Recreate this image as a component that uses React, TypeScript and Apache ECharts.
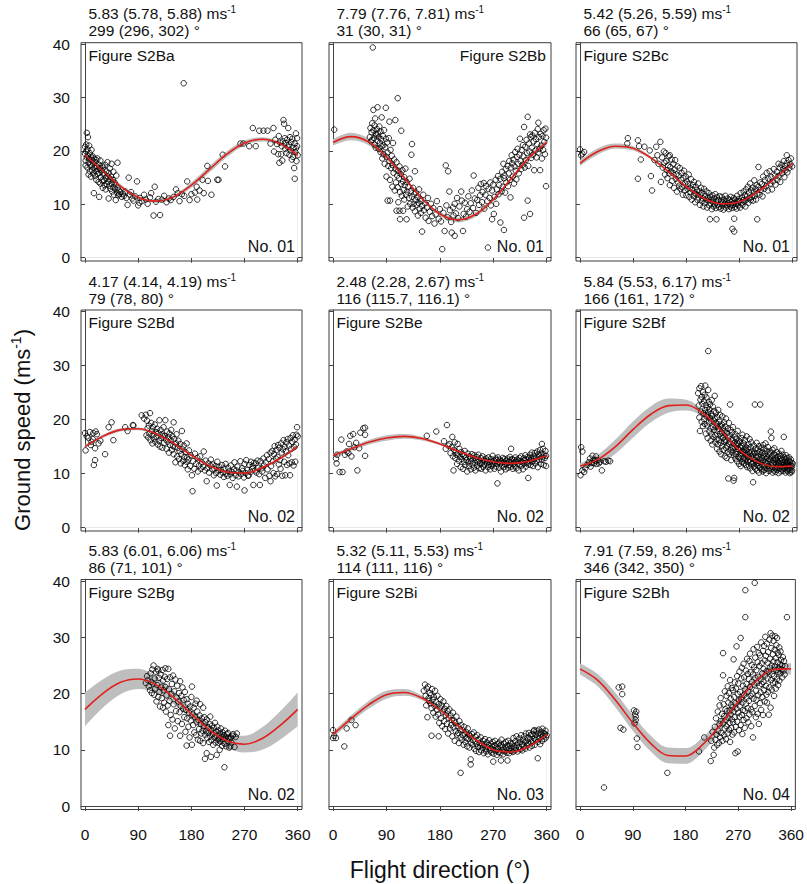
import React, { useEffect, useRef } from "react";
import * as echarts from "echarts";

// ---------- data ----------
const curveDeg = [0, 30, 60, 90, 120, 150, 180, 210, 240, 270, 300, 330, 360];
const xTicks = [0, 90, 180, 270, 360];
const yTicks = [0, 10, 20, 30, 40];

const speedTitles = [
  "5.83 (5.78, 5.88) ms", "7.79 (7.76, 7.81) ms", "5.42 (5.26, 5.59) ms",
  "4.17 (4.14, 4.19) ms", "2.48 (2.28, 2.67) ms", "5.84 (5.53, 6.17) ms",
  "5.83 (6.01, 6.06) ms", "5.32 (5.11, 5.53) ms", "7.91 (7.59, 8.26) ms",
];
const dirTitles = [
  "299 (296, 302) °", "31 (30, 31) °", "66 (65, 67) °",
  "79 (78, 80) °", "116 (115.7, 116.1) °", "166 (161, 172) °",
  "86 (71, 101) °", "114 (111, 116) °", "346 (342, 350) °",
];
const figLabels = [
  "Figure S2Ba", "Figure S2Bb", "Figure S2Bc",
  "Figure S2Bd", "Figure S2Be", "Figure S2Bf",
  "Figure S2Bg", "Figure S2Bi", "Figure S2Bh",
];
const noLabels = ["No. 01", "No. 01", "No. 01", "No. 02", "No. 02", "No. 02", "No. 02", "No. 03", "No. 04"];

const curveA = [19.2, 16.3, 13.4, 11.3, 10.6, 11.4, 13.6, 16.5, 19.4, 21.5, 22.2, 21.4, 19.2];
const curveB = [21.6, 22.7, 21.7, 18.9, 15.0, 11.1, 8.2, 7.1, 8.1, 10.9, 14.8, 18.7, 21.6];
const curveC = [17.7, 19.9, 20.9, 20.5, 18.7, 16.1, 13.3, 11.1, 10.1, 10.5, 12.3, 14.9, 17.7];
const curveD = [15.0, 16.9, 18.1, 18.3, 17.4, 15.6, 13.4, 11.5, 10.3, 10.1, 11.1, 12.8, 15.0];
const curveE = [13.3, 14.6, 15.8, 16.6, 16.9, 16.5, 15.5, 14.2, 13.0, 12.2, 11.9, 12.3, 13.3];
const curveF = [11.4, 12.6, 15.0, 18.2, 21.0, 22.6, 22.7, 21.0, 17.8, 14.3, 12.2, 11.3, 11.4];
const curveG = [17.2, 20.0, 22.0, 22.6, 21.6, 19.3, 16.4, 13.6, 11.6, 11.0, 12.0, 14.3, 17.2];
const curveI = [12.7, 15.5, 18.0, 19.8, 20.2, 19.2, 17.1, 14.3, 11.8, 10.0, 9.6, 10.6, 12.7];
const curveH = [24.4, 22.4, 18.9, 14.8, 11.2, 9.0, 8.9, 11.0, 14.5, 18.6, 22.2, 24.3, 24.4];

const bandA = [0.4, 0.4, 0.35, 0.3, 0.3, 0.35, 0.5, 0.6, 0.55, 0.45, 0.4, 0.35, 0.4];
const bandB = [0.6, 0.7, 0.6, 0.45, 0.35, 0.3, 0.35, 0.45, 0.45, 0.35, 0.3, 0.4, 0.6];
const bandC = [0.5, 0.6, 0.5, 0.4, 0.3, 0.25, 0.25, 0.25, 0.25, 0.25, 0.3, 0.4, 0.5];
const bandD = [0.3, 0.3, 0.3, 0.25, 0.2, 0.2, 0.2, 0.2, 0.2, 0.2, 0.2, 0.25, 0.3];
const bandE = [0.35, 0.4, 0.45, 0.5, 0.45, 0.35, 0.25, 0.2, 0.2, 0.2, 0.2, 0.25, 0.35];
const bandF = [0.5, 0.9, 1.3, 1.5, 1.5, 1.3, 1.0, 0.6, 0.4, 0.4, 0.4, 0.4, 0.5];
const bandG = [3.0, 2.5, 2.1, 1.8, 1.5, 1.2, 1.0, 1.0, 1.2, 1.5, 2.0, 2.5, 3.0];
const bandI = [0.5, 0.6, 0.7, 0.7, 0.6, 0.4, 0.3, 0.25, 0.25, 0.3, 0.3, 0.35, 0.5];
const bandH = [1.0, 1.1, 1.3, 1.4, 1.4, 1.4, 1.4, 1.3, 1.1, 0.9, 0.8, 0.8, 1.0];

const ptsA = [[0,19.5],[0,20.8],[1,18.2],[1,17.3],[2,21.2],[2,19.9],[3,23.4],[3,18.8],[4,16.9],[4,20.3],[5,22.6],[5,19.1],[6,17.8],[6,15.6],[7,21.0],[7,18.5],[8,16.2],[8,19.6],[9,17.4],[10,18.9],[10,15.2],[11,20.2],[11,17.1],[12,16.4],[12,18.3],[13,19.0],[14,15.8],[14,17.6],[15,12.1],[15,18.6],[16,16.9],[17,15.3],[17,17.9],[18,18.4],[19,14.6],[19,16.2],[20,17.1],[21,18.6],[21,15.7],[22,16.6],[23,14.2],[23,17.5],[24,11.4],[24,15.9],[25,16.8],[26,13.9],[26,18.2],[27,15.1],[28,16.4],[29,14.5],[29,17.2],[30,13.1],[30,15.8],[31,16.9],[32,14.4],[33,15.6],[33,13.6],[34,17.4],[35,14.9],[35,12.8],[36,16.2],[37,13.8],[38,15.3],[38,17.9],[39,14.2],[40,11.1],[40,15.9],[41,13.5],[42,14.8],[42,16.7],[43,12.9],[44,15.2],[45,13.9],[45,17.6],[46,12.4],[47,14.6],[48,13.2],[48,16.1],[49,11.8],[50,14.1],[51,12.9],[52,13.6],[52,10.8],[53,15.4],[54,12.2],[55,13.1],[55,17.8],[56,11.7],[57,12.6],[58,11.9],[60,12.3],[62,11.4],[64,12.0],[66,11.6],[68,12.4],[70,11.2],[72,9.9],[74,15.0],[76,11.8],[78,12.3],[80,11.1],[82,10.7],[85,11.5],[88,14.3],[90,9.8],[92,10.3],[93,11.2],[96,10.6],[100,11.8],[103,10.9],[106,10.1],[110,11.3],[112,12.1],[116,7.9],[118,13.3],[120,10.5],[124,11.0],[127,8.0],[130,10.9],[134,11.6],[138,10.4],[142,11.1],[145,10.8],[150,11.4],[154,12.8],[157,12.1],[160,10.6],[164,11.9],[167,32.7],[168,11.6],[173,14.3],[177,10.8],[180,11.9],[186,12.2],[189,13.3],[190,10.9],[194,12.6],[199,14.6],[201,12.1],[207,17.2],[208,14.4],[214,11.8],[224,14.6],[226,14.6],[233,19.3],[237,17.1],[263,21.4],[268,21.4],[278,20.9],[284,24.3],[289,20.9],[295,23.8],[302,23.8],[309,23.8],[314,21.4],[319,24.3],[320,19.9],[322,22.1],[325,21.3],[327,19.4],[328,22.8],[329,17.8],[330,21.6],[332,19.4],[333,20.9],[334,18.2],[335,21.8],[336,25.8],[337,25.1],[338,22.4],[339,20.4],[340,21.5],[341,19.6],[342,22.1],[343,20.8],[344,24.3],[345,21.2],[346,19.3],[347,22.6],[348,20.1],[349,21.7],[350,18.4],[351,22.3],[352,18.9],[353,20.6],[354,16.8],[355,14.8],[355,21.4],[356,19.8],[357,23.3],[357,20.5],[358,18.1],[359,22.4],[359,20.9],[360,19.2]];

const ptsB = [[2,24.0],[62,22.6],[63,24.3],[64,21.8],[65,23.5],[66,22.1],[66,25.2],[67,39.4],[68,27.7],[68,23.9],[69,22.4],[70,24.8],[70,21.2],[71,26.1],[72,23.2],[72,20.6],[73,22.9],[74,24.1],[75,28.2],[75,21.9],[76,23.3],[77,20.4],[77,22.6],[78,24.6],[79,21.5],[80,19.8],[80,23.7],[81,22.2],[82,26.3],[82,20.9],[83,18.6],[84,22.8],[85,21.1],[85,19.4],[86,23.9],[87,17.6],[88,20.7],[89,28.1],[89,22.3],[90,18.9],[90,15.2],[91,21.6],[92,10.7],[92,19.7],[93,17.2],[94,22.4],[95,25.5],[95,18.1],[96,10.7],[96,14.6],[97,20.2],[98,16.8],[99,19.1],[100,13.3],[100,17.4],[101,21.5],[102,15.9],[103,18.4],[104,12.6],[105,25.8],[105,16.6],[106,14.1],[107,8.8],[107,17.9],[108,15.4],[109,29.9],[109,13.2],[110,16.3],[110,10.4],[111,14.9],[112,8.8],[112,17.1],[113,7.2],[113,12.3],[114,15.7],[115,23.8],[115,13.8],[116,11.6],[117,16.4],[118,8.8],[118,14.3],[119,12.7],[120,15.1],[120,10.9],[121,13.6],[122,16.7],[123,11.8],[124,7.2],[124,14.2],[125,12.4],[126,9.6],[127,13.3],[128,11.2],[129,14.8],[130,10.1],[131,12.5],[132,19.3],[133,21.3],[133,11.4],[134,9.4],[135,13.1],[136,10.1],[137,11.9],[138,16.2],[138,8.7],[139,10.8],[140,12.2],[141,9.9],[142,11.4],[143,7.9],[144,10.3],[145,12.8],[146,9.2],[147,11.0],[148,8.4],[149,10.6],[150,4.9],[150,9.7],[152,11.8],[153,8.9],[155,10.2],[156,7.5],[158,9.4],[160,11.2],[161,6.9],[163,8.6],[165,10.1],[167,7.8],[169,9.3],[171,6.4],[173,8.1],[175,10.6],[178,7.3],[180,9.1],[182,6.8],[184,1.6],[186,8.4],[188,5.0],[190,17.3],[191,9.8],[193,7.6],[194,16.2],[196,12.4],[197,8.9],[199,6.7],[200,4.7],[202,9.4],[203,7.9],[205,4.1],[205,10.1],[207,8.3],[209,11.2],[211,7.4],[213,9.6],[216,12.4],[217,10.7],[219,5.0],[220,8.2],[222,10.3],[224,7.7],[226,9.1],[228,11.5],[230,8.6],[232,10.2],[234,12.6],[236,9.3],[237,15.4],[239,11.1],[241,8.4],[243,10.8],[245,13.1],[246,9.9],[248,11.7],[249,13.8],[251,10.4],[252,12.3],[254,14.0],[255,9.2],[257,11.8],[258,13.4],[260,10.6],[261,1.9],[262,12.9],[264,11.2],[265,14.1],[266,9.8],[268,7.2],[268,12.6],[270,13.7],[271,8.2],[272,11.4],[274,14.6],[275,10.1],[276,12.8],[278,15.3],[279,11.9],[280,13.6],[282,6.6],[282,14.8],[284,12.4],[285,16.1],[286,13.3],[287,17.6],[288,5.2],[288,14.9],[289,15.4],[290,12.2],[291,16.6],[292,14.1],[294,17.2],[295,13.4],[296,15.8],[297,18.1],[298,14.6],[299,11.3],[300,16.9],[301,19.2],[302,17.7],[303,15.2],[304,18.4],[305,13.9],[306,17.1],[307,19.8],[308,16.3],[309,14.7],[310,18.9],[311,20.4],[312,17.6],[313,15.8],[314,19.3],[315,22.3],[316,18.1],[317,16.6],[318,20.2],[319,17.4],[320,21.1],[321,19.0],[322,24.5],[322,7.5],[323,16.9],[324,20.8],[325,18.3],[326,22.1],[327,19.6],[328,26.4],[328,10.7],[329,17.2],[330,21.4],[331,19.9],[332,8.2],[332,23.1],[333,22.6],[334,18.7],[335,20.6],[336,22.9],[337,19.3],[338,21.8],[339,16.4],[340,23.4],[341,20.1],[342,22.2],[343,18.8],[344,21.3],[345,24.1],[346,25.3],[346,19.7],[347,22.6],[348,20.4],[349,16.4],[350,23.2],[351,21.0],[352,18.6],[353,22.8],[354,20.2],[355,23.9],[356,21.7],[357,19.4],[358,24.2],[359,13.4],[359,22.5]];

const ptsC = [[0,20.3],[2,19.2],[4,19.5],[7,19.8],[80,21.4],[81,22.4],[98,22.0],[98,14.8],[100,20.9],[103,18.4],[109,20.8],[118,20.1],[120,15.3],[122,12.6],[126,18.3],[129,20.8],[131,19.2],[133,17.6],[136,21.7],[137,14.2],[139,18.8],[140,16.9],[142,19.9],[143,17.8],[144,15.6],[145,19.6],[146,18.1],[147,16.4],[148,14.9],[149,17.3],[150,19.0],[151,15.8],[152,19.2],[152,13.6],[153,17.0],[154,16.2],[155,18.4],[156,14.4],[157,15.9],[158,17.6],[159,13.1],[160,16.5],[161,18.3],[162,14.8],[163,15.6],[164,12.4],[165,17.1],[166,14.1],[167,15.4],[168,13.5],[169,16.8],[170,12.9],[171,14.6],[172,15.9],[173,13.2],[174,11.8],[175,14.9],[176,16.3],[177,12.6],[178,13.9],[179,15.2],[180,11.7],[181,14.3],[182,12.9],[183,13.8],[184,15.6],[185,11.4],[186,13.1],[187,12.3],[188,14.7],[189,10.9],[190,12.8],[191,13.6],[192,11.6],[193,14.2],[194,12.1],[195,10.4],[196,13.3],[197,11.9],[198,12.7],[199,10.8],[200,13.9],[201,11.3],[202,12.4],[203,9.9],[204,11.8],[205,13.1],[206,10.6],[207,12.2],[208,11.1],[209,9.6],[210,12.9],[211,10.3],[212,11.6],[213,10.9],[214,12.4],[215,9.4],[216,11.2],[217,10.7],[218,12.1],[219,9.8],[220,7.2],[220,11.4],[221,10.2],[222,10.9],[223,9.1],[224,11.7],[225,10.4],[226,9.6],[227,11.1],[228,10.0],[229,11.9],[230,9.3],[231,7.2],[231,10.6],[232,11.3],[233,9.9],[234,10.8],[235,9.5],[236,11.5],[237,10.1],[238,9.2],[239,10.7],[240,11.4],[241,9.7],[242,10.3],[243,9.0],[244,10.9],[245,10.1],[246,11.6],[247,9.4],[248,10.5],[249,9.8],[250,11.1],[251,10.2],[252,9.1],[253,10.8],[254,9.6],[255,11.4],[256,10.0],[257,9.3],[258,5.4],[258,10.7],[259,9.9],[260,11.2],[261,7.3],[261,4.9],[261,10.3],[262,9.5],[263,10.9],[264,10.1],[265,9.2],[266,11.6],[267,10.4],[268,9.8],[269,11.0],[270,10.6],[271,9.4],[272,12.1],[273,10.2],[274,11.3],[275,9.9],[276,10.8],[277,12.4],[278,10.5],[279,11.7],[280,9.6],[281,12.8],[282,10.9],[283,11.5],[284,13.3],[285,10.3],[286,12.2],[287,11.1],[288,13.9],[289,10.8],[290,12.6],[291,11.4],[292,13.1],[293,10.7],[294,12.4],[295,14.5],[296,11.6],[297,12.9],[298,10.9],[299,13.6],[300,7.2],[300,12.0],[302,17.0],[302,13.3],[304,11.8],[305,14.1],[306,12.7],[308,13.8],[309,11.5],[310,15.2],[312,12.9],[313,14.6],[315,13.4],[316,15.9],[318,12.6],[319,14.8],[321,16.2],[322,13.9],[324,15.1],[325,12.8],[327,14.3],[328,16.6],[330,15.4],[331,13.7],[333,16.1],[334,14.6],[336,17.6],[336,15.3],[338,16.9],[339,14.2],[341,17.4],[342,15.8],[344,16.6],[345,18.1],[346,15.1],[347,17.2],[348,16.4],[350,19.2],[350,17.7],[351,16.0],[353,18.3],[354,16.8],[356,17.5],[357,18.6],[359,17.1]];

const ptsD = [[0,17.5],[1,14.3],[3,16.9],[6,16.6],[8,17.7],[10,15.3],[11,15.9],[13,16.4],[14,17.5],[15,11.6],[17,14.7],[17,12.5],[18,17.8],[20,17.3],[23,15.6],[26,16.1],[34,13.6],[40,18.6],[45,19.5],[48,16.2],[68,18.6],[72,17.9],[81,19.0],[82,18.9],[96,20.8],[100,20.2],[103,20.9],[106,18.4],[110,21.2],[104,17.1],[105,19.8],[107,16.7],[108,18.9],[109,17.4],[111,16.2],[112,19.4],[113,17.9],[114,15.6],[115,18.6],[116,17.2],[117,16.5],[118,19.1],[119,15.9],[120,17.7],[121,16.8],[122,18.3],[123,15.4],[124,17.5],[125,16.1],[126,19.9],[127,15.0],[128,18.1],[129,16.6],[130,17.3],[131,14.8],[132,16.9],[133,18.6],[134,15.7],[135,17.0],[136,19.9],[137,16.3],[138,14.6],[139,17.8],[140,15.9],[141,16.7],[142,13.9],[143,17.4],[144,15.3],[145,16.2],[146,18.1],[147,14.4],[148,16.9],[149,15.1],[150,19.5],[150,13.6],[151,16.4],[152,14.9],[153,12.1],[154,15.6],[155,17.3],[156,13.2],[157,14.8],[158,16.1],[159,12.7],[160,14.2],[161,15.5],[162,11.9],[163,13.6],[164,17.9],[165,14.5],[166,12.4],[167,15.2],[168,13.1],[169,11.6],[170,14.0],[172,15.6],[172,12.2],[173,13.0],[174,10.8],[175,12.6],[176,14.3],[178,11.4],[179,13.4],[181,9.7],[182,6.75],[183,12.3],[185,10.9],[186,13.7],[188,11.8],[190,12.9],[191,10.4],[193,11.5],[195,13.2],[196,10.9],[198,12.1],[200,11.3],[201,14.1],[203,10.6],[204,12.4],[206,8.6],[207,11.0],[209,11.9],[210,10.2],[212,11.5],[213,12.6],[215,10.8],[216,11.7],[218,9.7],[219,10.9],[221,11.4],[222,10.1],[223,7.8],[224,12.2],[226,10.6],[227,11.3],[229,9.8],[230,10.7],[232,11.6],[233,10.2],[235,9.4],[236,10.9],[238,11.8],[239,10.0],[241,9.6],[242,11.1],[244,10.4],[245,7.9],[246,9.9],[247,11.5],[249,10.3],[250,9.2],[252,10.8],[253,12.1],[255,9.7],[256,10.6],[257,7.6],[258,11.3],[260,9.5],[261,10.2],[263,12.3],[264,9.9],[266,11.0],[267,10.5],[269,9.3],[270,6.9],[270,11.8],[272,10.1],[273,12.5],[275,10.7],[276,9.6],[277,9.7],[278,11.6],[280,10.3],[281,12.2],[283,10.9],[284,11.4],[285,7.9],[286,12.0],[288,10.6],[289,11.9],[290,10.2],[292,12.4],[293,11.1],[295,9.9],[296,7.9],[297,12.3],[299,11.0],[300,10.4],[302,12.8],[303,11.5],[305,9.2],[306,12.1],[308,13.4],[309,10.8],[311,12.7],[312,9.6],[314,8.6],[314,13.9],[315,11.4],[317,14.2],[318,12.3],[319,10.1],[320,13.6],[321,15.1],[322,9.5],[323,12.8],[324,14.4],[325,9.9],[326,13.1],[327,15.3],[328,11.7],[329,14.8],[330,12.5],[331,10.9],[332,15.6],[333,13.9],[334,9.6],[335,14.5],[336,16.2],[337,12.2],[338,15.0],[339,9.7],[340,14.1],[341,15.8],[342,11.6],[343,16.4],[344,13.4],[345,15.2],[346,11.9],[347,9.7],[348,16.6],[349,14.6],[350,12.1],[351,15.9],[352,17.1],[353,11.5],[354,14.9],[355,16.3],[356,12.2],[357,15.4],[358,17.2],[359,18.6],[360,16.9]];

const ptsE = [[5,12.8],[6,11.9],[7,13.5],[11,10.3],[14,16.3],[16,10.3],[20,13.5],[23,14.1],[26,13.8],[27,15.5],[29,17.0],[31,13.2],[34,17.3],[36,14.9],[39,15.7],[41,10.6],[44,14.7],[46,17.6],[51,18.4],[54,18.5],[54,17.2],[54,13.3],[158,17.0],[174,17.8],[187,16.0],[190,14.6],[192,19.0],[194,15.2],[196,15.5],[198,13.8],[200,14.9],[201,16.8],[202,13.2],[203,10.6],[204,14.4],[205,15.8],[206,12.9],[207,14.1],[208,13.5],[209,11.8],[210,15.5],[211,13.7],[212,12.4],[213,14.6],[214,13.1],[215,11.2],[216,14.0],[217,12.7],[218,13.6],[219,10.9],[220,13.3],[221,12.2],[222,14.2],[223,11.6],[224,13.0],[225,12.5],[226,10.4],[227,13.7],[228,12.1],[229,11.4],[230,13.2],[231,12.8],[232,10.8],[233,12.3],[234,13.6],[235,11.7],[236,12.9],[237,11.1],[238,13.4],[239,12.0],[240,10.6],[241,12.6],[242,13.1],[243,11.5],[244,12.2],[245,13.5],[246,11.0],[247,12.4],[248,11.8],[249,12.9],[250,10.9],[251,12.0],[252,13.2],[253,11.3],[254,12.6],[255,11.7],[256,12.3],[257,10.6],[258,12.8],[259,11.9],[260,12.4],[261,11.2],[262,13.0],[263,11.6],[264,12.2],[265,10.8],[266,12.7],[267,11.4],[268,12.1],[269,13.3],[270,11.7],[271,12.4],[272,10.9],[273,12.0],[274,12.8],[275,11.3],[276,12.5],[277,8.2],[277,11.8],[278,13.0],[279,12.2],[280,11.1],[281,12.6],[282,11.9],[283,10.4],[284,12.3],[285,11.5],[286,12.9],[287,12.1],[288,11.2],[289,12.7],[290,11.7],[291,10.8],[292,12.4],[293,11.9],[294,12.8],[295,11.1],[296,12.2],[297,11.6],[298,13.1],[299,12.5],[300,14.6],[300,11.3],[301,12.0],[302,12.7],[303,10.9],[304,11.8],[305,12.5],[306,11.4],[307,13.0],[308,12.2],[309,11.0],[310,12.6],[311,11.8],[312,12.4],[313,10.6],[314,12.9],[315,11.7],[316,12.3],[317,13.2],[318,11.5],[319,12.1],[320,10.8],[321,12.8],[322,11.9],[323,12.5],[324,13.4],[325,11.3],[326,12.6],[327,12.0],[328,13.1],[329,9.2],[329,11.7],[330,12.9],[331,12.3],[332,13.5],[333,11.6],[334,12.8],[335,13.9],[336,12.2],[337,11.4],[338,13.3],[339,12.7],[340,13.8],[341,11.9],[342,13.0],[343,12.4],[344,14.1],[345,11.2],[346,13.6],[347,12.5],[348,13.2],[349,14.4],[350,11.8],[351,13.7],[352,15.5],[352,12.6],[353,13.1],[354,14.6],[355,11.6],[356,13.5],[357,12.9],[358,14.2],[359,13.3],[359,11.4]];

const ptsF = [[1,9.7],[2,14.9],[4,14.1],[4,10.6],[7,10.3],[9,11.0],[12,11.6],[15,12.1],[17,12.8],[18,11.3],[20,12.0],[21,13.3],[23,12.6],[24,11.9],[26,12.4],[27,13.2],[28,11.8],[30,12.5],[32,11.9],[34,12.2],[37,10.6],[41,12.3],[44,12.2],[48,12.4],[51,12.3],[200,24.9],[201,22.6],[202,25.8],[202,20.4],[203,17.9],[204,23.7],[205,21.5],[205,26.2],[206,24.2],[206,19.6],[207,22.9],[208,25.1],[208,18.8],[209,21.2],[210,23.4],[210,20.1],[211,19.2],[211,24.6],[212,26.3],[212,21.8],[213,17.4],[213,22.7],[214,20.6],[214,24.1],[215,18.9],[215,22.2],[216,20.8],[216,16.6],[217,32.7],[217,25.5],[217,21.4],[218,19.5],[218,23.3],[219,17.8],[219,21.9],[220,20.3],[220,22.8],[221,18.4],[221,16.1],[222,21.1],[222,19.8],[223,23.6],[223,17.3],[224,20.7],[224,15.4],[225,18.6],[225,22.4],[226,19.9],[226,16.8],[227,21.6],[227,18.1],[228,24.4],[228,20.2],[229,17.1],[229,15.8],[230,19.4],[230,21.3],[231,16.4],[231,18.7],[232,20.5],[232,14.6],[233,17.9],[233,19.2],[234,15.4],[234,21.8],[235,18.3],[235,16.2],[236,19.6],[236,14.1],[237,17.4],[237,20.9],[238,15.7],[238,18.8],[239,16.9],[239,13.6],[240,19.1],[240,17.6],[241,15.1],[241,20.6],[242,16.6],[242,18.4],[243,14.4],[243,17.2],[244,19.5],[244,15.9],[245,13.2],[245,17.9],[246,16.3],[246,18.7],[247,14.8],[247,20.2],[248,16.0],[248,12.9],[249,17.5],[249,15.2],[250,18.3],[250,14.0],[251,9.1],[251,16.7],[252,15.5],[252,19.4],[253,13.7],[253,17.0],[254,22.8],[254,15.8],[255,14.3],[255,18.1],[256,16.4],[256,12.5],[257,15.0],[257,17.6],[258,13.9],[258,16.2],[259,14.7],[259,18.6],[260,8.7],[260,15.6],[261,9.2],[261,13.4],[262,16.8],[262,14.9],[263,12.8],[263,17.3],[264,15.2],[264,13.6],[265,14.0],[265,16.5],[266,12.3],[266,15.7],[267,14.6],[267,17.9],[268,13.1],[268,15.4],[269,11.8],[269,16.1],[270,14.4],[270,12.9],[271,15.9],[271,13.7],[272,11.4],[272,14.8],[273,16.6],[273,13.3],[274,12.1],[274,15.1],[275,14.2],[275,17.2],[276,12.7],[276,13.9],[277,15.6],[277,11.9],[278,14.5],[278,13.0],[279,16.2],[279,12.4],[280,13.8],[280,15.0],[281,11.6],[281,14.3],[282,12.8],[282,16.9],[283,13.5],[283,11.2],[284,14.7],[284,12.3],[285,15.4],[285,13.1],[286,11.5],[286,14.0],[287,12.6],[287,16.4],[288,13.7],[288,11.0],[289,14.9],[289,12.2],[290,13.3],[290,15.8],[291,11.8],[291,14.1],[292,12.9],[292,10.5],[293,8.4],[293,13.6],[294,12.0],[294,15.2],[295,11.3],[295,13.9],[296,22.8],[296,12.5],[297,14.6],[297,10.9],[298,13.1],[298,11.7],[299,15.7],[299,12.3],[300,13.8],[300,10.6],[301,12.0],[301,14.5],[302,11.4],[302,13.2],[303,15.1],[303,10.2],[304,12.7],[304,14.0],[305,22.8],[305,11.1],[306,13.5],[306,12.2],[307,10.8],[307,14.8],[308,12.9],[308,11.6],[309,13.9],[309,10.4],[310,12.4],[310,15.3],[311,11.2],[311,13.3],[312,14.6],[312,10.7],[313,12.1],[313,13.7],[314,11.5],[314,15.6],[315,12.8],[315,10.1],[316,14.2],[316,11.9],[317,13.0],[317,10.9],[318,12.3],[318,14.9],[319,11.4],[319,13.5],[320,10.5],[320,12.7],[321,14.1],[321,11.1],[322,12.6],[322,13.8],[323,17.8],[323,10.8],[324,16.6],[324,12.0],[325,13.2],[325,11.3],[326,14.4],[326,10.2],[327,12.5],[327,11.7],[328,13.6],[328,10.6],[329,12.2],[329,14.7],[330,11.0],[330,12.9],[331,13.4],[331,10.3],[332,11.8],[332,12.6],[333,14.0],[333,11.2],[334,10.7],[334,12.4],[335,13.1],[335,11.5],[336,12.0],[336,10.1],[337,13.7],[337,11.8],[338,12.3],[338,10.9],[339,11.4],[339,13.3],[340,12.8],[340,10.4],[341,11.9],[341,14.2],[342,10.8],[342,12.5],[343,13.5],[343,11.2],[344,12.1],[344,10.5],[345,16.8],[345,11.6],[346,13.0],[346,10.9],[347,12.2],[347,11.4],[348,10.2],[348,12.7],[349,11.7],[349,13.4],[350,10.6],[350,12.1],[351,11.3],[351,12.9],[352,10.4],[352,11.8],[353,12.4],[353,10.8],[354,11.5],[354,13.0],[355,10.1],[355,12.2],[356,11.6],[356,10.7],[357,12.6],[357,11.1],[358,10.3],[358,12.0],[359,11.4],[359,10.6],[360,11.9]];

const ptsG = [[103,21.9],[105,23.1],[106,22.4],[108,21.3],[110,20.6],[111,23.6],[112,22.1],[113,20.1],[114,24.3],[115,21.8],[116,25.0],[117,19.8],[118,22.7],[119,20.9],[120,23.9],[121,18.6],[122,21.5],[123,24.4],[124,19.4],[124,24.1],[125,22.8],[126,20.3],[127,17.7],[128,23.4],[129,21.1],[130,19.2],[131,24.2],[132,17.5],[132,22.3],[133,20.6],[134,18.4],[135,23.0],[136,24.5],[136,21.2],[137,16.8],[138,19.7],[139,22.6],[140,17.9],[141,24.4],[141,14.4],[142,20.8],[143,18.7],[144,12.5],[144,22.9],[145,16.2],[146,19.9],[147,21.7],[148,15.4],[149,23.2],[150,18.1],[151,20.4],[152,13.8],[153,22.5],[154,16.9],[155,19.3],[156,21.4],[157,15.1],[158,18.6],[159,20.1],[160,16.7],[161,12.5],[161,22.2],[162,17.8],[163,19.6],[164,14.6],[165,21.1],[166,17.3],[167,18.9],[168,15.8],[169,20.3],[170,13.2],[171,17.1],[172,10.75],[172,19.0],[173,15.6],[174,18.2],[175,14.1],[176,16.6],[177,12.2],[178,17.7],[179,15.2],[180,19.4],[181,21.25],[181,10.9],[182,16.3],[183,14.4],[184,17.5],[185,13.1],[186,15.9],[187,18.2],[188,12.6],[189,18.75],[189,14.9],[190,16.8],[191,11.8],[192,15.3],[193,13.7],[194,16.1],[195,18.1],[195,11.6],[196,14.6],[197,12.9],[198,15.6],[199,13.4],[200,17.5],[200,11.2],[201,14.2],[202,15.8],[203,8.4],[203,12.7],[204,14.9],[205,13.3],[206,9.4],[206,15.4],[207,12.1],[208,14.0],[209,13.0],[210,11.4],[211,14.6],[212,15.9],[212,12.4],[213,8.75],[213,13.6],[214,11.7],[215,14.3],[216,12.8],[217,10.9],[218,13.9],[219,12.2],[220,14.8],[221,11.3],[222,13.2],[223,9.1],[223,12.5],[224,14.1],[225,11.8],[226,11.25],[226,13.4],[227,12.0],[228,10.0],[228,12.9],[229,11.5],[230,13.8],[231,12.3],[232,10.7],[233,13.1],[234,11.9],[235,12.6],[236,6.9],[236,11.1],[237,13.4],[238,12.1],[239,10.6],[240,12.8],[241,11.6],[242,13.0],[243,12.2],[244,10.4],[245,11.9],[246,10.6],[247,12.2],[248,11.3],[250,12.5],[251,12.8],[253,10.5],[255,12.3],[257,12.9]];

const ptsI = [[0,13.5],[0,12.1],[2,12.5],[5,12.1],[19,10.6],[23,13.8],[31,15.3],[38,14.4],[153,20.5],[155,21.6],[156,19.6],[157,17.9],[158,20.9],[159,15.8],[160,21.25],[161,19.2],[162,18.7],[163,20.1],[164,18.3],[165,19.7],[166,12.5],[166,17.4],[167,20.8],[168,18.9],[169,16.6],[170,19.4],[171,17.8],[172,20.5],[173,15.9],[174,18.5],[175,17.1],[176,19.6],[177,16.3],[178,12.4],[178,18.1],[179,14.8],[180,17.5],[181,19.0],[182,15.6],[183,17.9],[184,14.2],[185,16.8],[186,18.6],[187,15.1],[188,17.3],[189,13.7],[190,16.2],[191,17.8],[192,14.6],[193,16.9],[194,12.9],[195,15.7],[196,17.2],[197,13.8],[198,16.1],[199,14.4],[200,15.3],[201,12.4],[202,16.6],[203,14.0],[204,15.2],[205,11.6],[206,14.8],[207,13.3],[208,15.9],[209,12.7],[210,14.2],[211,13.0],[212,11.2],[213,15.1],[214,13.6],[215,5.9],[215,12.2],[216,14.4],[217,11.8],[218,13.5],[219,12.6],[220,10.9],[221,14.1],[222,12.9],[223,11.4],[224,13.2],[225,12.1],[226,10.6],[227,13.8],[228,11.9],[229,12.7],[230,10.4],[231,12.4],[232,8.3],[232,7.4],[233,11.3],[234,12.8],[235,10.9],[236,11.7],[237,13.1],[238,10.2],[239,11.5],[240,12.3],[241,9.8],[242,11.1],[243,12.6],[244,10.5],[245,11.8],[246,9.6],[247,11.2],[248,10.7],[249,12.2],[250,9.9],[251,11.0],[252,10.4],[253,11.6],[254,9.4],[255,10.8],[256,11.9],[257,10.1],[258,9.7],[259,11.3],[260,10.5],[261,9.2],[262,10.9],[263,11.7],[264,9.9],[265,10.3],[266,11.1],[267,9.5],[268,10.6],[269,11.4],[270,7.9],[270,10.0],[271,9.3],[272,10.8],[273,11.6],[274,9.8],[275,10.4],[276,9.1],[277,11.0],[278,10.2],[279,9.6],[280,11.3],[281,10.7],[282,9.4],[283,8.1],[283,10.9],[284,11.8],[285,9.9],[286,10.5],[287,9.2],[288,11.1],[289,10.0],[290,9.7],[291,11.4],[292,10.3],[293,9.5],[294,8.1],[294,10.8],[295,11.6],[296,10.1],[297,9.4],[298,10.7],[299,11.2],[300,9.8],[301,10.4],[302,11.0],[303,9.6],[304,12.1],[305,10.6],[306,9.9],[307,11.5],[308,10.3],[309,12.4],[310,10.9],[311,9.7],[312,11.2],[313,10.5],[314,12.0],[315,11.4],[316,10.1],[317,12.6],[318,11.0],[319,9.9],[320,11.8],[321,10.6],[322,12.4],[323,11.3],[324,10.2],[325,12.9],[326,11.6],[327,10.8],[328,12.2],[329,11.1],[330,13.0],[331,10.4],[332,11.9],[333,12.6],[334,11.3],[335,10.7],[336,12.8],[337,11.5],[338,13.3],[339,13.5],[339,12.0],[340,10.9],[341,12.7],[342,11.8],[343,13.4],[344,12.3],[345,8.5],[345,11.4],[346,12.9],[347,13.6],[348,12.1],[349,11.0],[350,12.7],[351,13.2],[352,11.6],[353,13.75],[354,12.4],[355,13.0],[356,11.9],[357,12.8],[358,13.4],[359,12.2],[360,12.6]];

const ptsH = [[41,3.3],[66,21.1],[69,13.9],[72,21.25],[72,19.9],[74,13.6],[92,17.0],[93,14.7],[94,16.4],[95,15.9],[95,15.3],[96,16.8],[97,12.0],[98,10.5],[149,5.9],[203,9.7],[212,12.2],[223,8.0],[224,11.6],[226,13.2],[228,9.1],[229,10.4],[230,14.1],[231,11.8],[232,15.6],[233,12.7],[234,10.9],[235,16.8],[236,13.4],[237,11.2],[238,17.9],[238,14.6],[239,12.3],[240,19.2],[240,15.1],[241,13.0],[242,16.4],[243,11.6],[244,27.2],[244,23.25],[244,14.7],[245,18.1],[246,12.6],[246,16.0],[247,20.4],[247,13.8],[248,17.2],[249,15.3],[249,11.9],[250,19.6],[250,14.2],[251,16.9],[252,21.3],[252,12.9],[253,18.4],[253,15.7],[254,13.6],[254,20.1],[255,17.0],[255,14.8],[256,22.4],[256,11.4],[257,16.3],[257,19.1],[258,13.9],[258,18.0],[259,15.4],[259,21.0],[260,17.6],[260,12.7],[261,20.6],[261,14.9],[262,26.1],[262,16.8],[263,19.4],[263,13.1],[264,22.0],[264,15.8],[265,9.4],[265,18.3],[266,20.9],[266,14.1],[267,28.4],[267,17.3],[268,23.1],[268,15.0],[269,9.7],[269,19.9],[270,16.6],[270,21.8],[271,13.5],[271,18.8],[272,23.9],[272,15.9],[273,20.3],[273,17.7],[274,29.9],[274,14.4],[275,22.7],[275,19.0],[276,16.2],[276,24.6],[277,18.4],[277,12.8],[278,21.4],[278,17.1],[279,25.3],[279,15.3],[280,19.7],[280,22.9],[281,16.9],[281,13.9],[282,38.4],[282,33.6],[282,20.8],[283,24.1],[283,18.2],[284,15.6],[284,21.7],[285,26.2],[285,19.3],[286,17.4],[286,23.5],[287,14.9],[287,20.4],[288,22.6],[288,18.7],[289,25.8],[289,16.3],[290,21.2],[290,27.1],[291,19.6],[291,23.8],[292,17.2],[292,14.2],[293,22.1],[293,25.1],[294,20.0],[294,16.7],[295,12.2],[295,23.4],[296,27.9],[296,19.1],[297,21.6],[297,24.7],[298,39.7],[298,17.8],[299,22.8],[299,26.4],[300,20.5],[300,15.8],[301,24.2],[301,18.9],[302,28.3],[302,21.9],[303,16.4],[303,25.6],[304,23.0],[304,19.7],[305,27.2],[305,14.6],[306,21.4],[306,24.9],[307,18.3],[307,26.8],[308,22.5],[308,20.2],[309,29.1],[309,17.1],[310,25.4],[310,21.7],[311,23.6],[311,19.4],[312,27.6],[312,16.2],[313,24.4],[313,22.1],[314,20.6],[314,28.5],[315,25.9],[315,18.6],[316,23.2],[316,30.1],[317,21.4],[317,26.7],[318,19.8],[318,24.0],[319,18.4],[319,28.9],[320,22.7],[320,25.5],[321,20.3],[321,27.4],[322,16.25],[322,23.9],[323,29.6],[323,21.1],[324,26.2],[324,24.6],[325,30.75],[325,17.5],[326,22.4],[326,28.1],[327,25.0],[327,20.7],[328,30.3],[328,23.5],[329,27.0],[329,21.9],[330,25.7],[330,29.4],[331,23.1],[331,19.6],[332,27.8],[332,24.8],[333,22.0],[333,30.2],[334,26.3],[334,20.9],[335,28.6],[335,24.2],[336,22.6],[336,29.9],[337,25.6],[337,27.3],[338,23.8],[338,21.5],[339,26.9],[339,24.5],[340,28.2],[340,22.3],[341,25.2],[342,27.5],[342,23.6],[343,26.0],[344,24.3],[345,25.0],[345,22.9],[346,26.5],[347,24.1],[348,25.8],[349,23.4],[350,24.9],[353,33.6]];

// ---------- layout ----------
const FONT = "'Liberation Sans', Arial, Helvetica, sans-serif";
const colLeft = [81, 329, 576];
const colWidth = [221, 222, 221];
const rowTop = [42.7, 310, 579.5];
const rowHeight = [218.3, 221, 230];
const X_MIN = -6.8, X_MAX = 367.3, Y_MIN = -0.62, Y_MAX = 40.3;

export default function App() {
  const ref = useRef<HTMLDivElement>(null);

  useEffect(() => {
    document.body.style.margin = "0";
    const chart = echarts.init(ref.current!, null, { renderer: "svg" });

    const panelPts = [ptsA, ptsB, ptsC, ptsD, ptsE, ptsF, ptsG, ptsI, ptsH];
    const panelCurve = [curveA, curveB, curveC, curveD, curveE, curveF, curveG, curveI, curveH];
    const panelBand = [bandA, bandB, bandC, bandD, bandE, bandF, bandG, bandI, bandH];

    const grid: any[] = [];
    const xAxis: any[] = [];
    const yAxis: any[] = [];
    const series: any[] = [];
    const graphic: any[] = [];
    const SM = 0.35;

    for (let i = 0; i < 9; i++) {
      const r = Math.floor(i / 3);
      const c = i % 3;
      const left = colLeft[c];
      const top = rowTop[r];
      const w = colWidth[c];
      const h = rowHeight[r];
      grid.push({
        left, top, width: w, height: h,
        show: true, borderColor: "#3c3c3c", borderWidth: 1, backgroundColor: "transparent",
      });
      xAxis.push({
        type: "value", gridIndex: i, min: X_MIN, max: X_MAX, offset: 2,
        axisLine: { show: true, lineStyle: { color: "#444", width: 1 } },
        axisTick: { show: true, length: 5, customValues: xTicks, lineStyle: { color: "#444" } },
        axisLabel: {
          show: r === 2, customValues: xTicks, margin: 15, fontSize: 15.5,
          color: "#111", fontFamily: FONT,
        },
        splitLine: { show: false },
      });
      yAxis.push({
        type: "value", gridIndex: i, min: Y_MIN, max: Y_MAX, offset: 2,
        axisLine: { show: true, lineStyle: { color: "#444", width: 1 } },
        axisTick: { show: true, length: 4, customValues: yTicks, lineStyle: { color: "#444" } },
        axisLabel: {
          show: c === 0, customValues: yTicks, margin: 9, fontSize: 15.5,
          color: "#111", fontFamily: FONT,
        },
        splitLine: { show: false },
      });

      const curve = panelCurve[i];
      const band = panelBand[i];
      const hi = curveDeg.map((d, k) => [d, curve[k] + band[k]]);
      const lo = curveDeg.map((d, k) => [d, curve[k] - band[k]]);
      const mid = curveDeg.map((d, k) => [d, curve[k]]);

      // grey band: fill under upper edge, then white-out under lower edge
      series.push({
        type: "line", xAxisIndex: i, yAxisIndex: i, data: hi,
        smooth: SM, symbol: "none", lineStyle: { width: 0, opacity: 0 },
        areaStyle: { color: "#bebebe", opacity: 1, origin: 0 }, silent: true, z: 1,
      });
      series.push({
        type: "line", xAxisIndex: i, yAxisIndex: i, data: lo,
        smooth: SM, symbol: "none", lineStyle: { width: 0, opacity: 0 },
        areaStyle: { color: "#ffffff", opacity: 1, origin: 0 }, silent: true, z: 2,
      });
      series.push({
        type: "scatter", xAxisIndex: i, yAxisIndex: i, data: panelPts[i],
        symbol: "circle", symbolSize: 5.5,
        itemStyle: { color: "rgba(255,255,255,0)", borderColor: "#000", borderWidth: 1 },
        silent: true, z: 3,
      });
      series.push({
        type: "line", xAxisIndex: i, yAxisIndex: i, data: mid,
        smooth: SM, symbol: "none", lineStyle: { color: "#e0201b", width: 1.6 }, silent: true, z: 4,
      });

      graphic.push({
        type: "text", x: left + 7.5, y: top - 28.8, z: 100,
        style: {
          text: `{a|${speedTitles[i]}}{s|-1}`,
          rich: {
            a: { fontSize: 15.5, fontFamily: FONT, fill: "#111", lineHeight: 18 },
            s: { fontSize: 10, fontFamily: FONT, fill: "#111", lineHeight: 10, verticalAlign: "top" },
          },
          align: "left", verticalAlign: "middle",
        },
      });
      graphic.push({
        type: "text", x: left + 7.5, y: top - 11.8, z: 100,
        style: { text: dirTitles[i], fontSize: 15.5, fontFamily: FONT, fill: "#111", align: "left", verticalAlign: "middle" },
      });
      const rightAligned = i === 1;
      graphic.push({
        type: "text", x: rightAligned ? left + w - 5 : left + 7.5, y: top + 12.8, z: 100,
        style: {
          text: figLabels[i], fontSize: 15.5, fontFamily: FONT, fill: "#111",
          align: rightAligned ? "right" : "left", verticalAlign: "middle",
        },
      });
      graphic.push({
        type: "text", x: left + w - 7, y: top + h - 15, z: 100,
        style: { text: noLabels[i], fontSize: 16, fontFamily: FONT, fill: "#111", align: "right", verticalAlign: "middle" },
      });
    }

    graphic.push({
      type: "text", x: 22, y: 430, rotation: Math.PI / 2, z: 100,
      style: {
        text: "{a|Ground speed (ms}{s|-1}{a|)}",
        rich: {
          a: { fontSize: 22, fontFamily: FONT, fill: "#111", lineHeight: 26 },
          s: { fontSize: 14, fontFamily: FONT, fill: "#111", lineHeight: 14, verticalAlign: "top" },
        },
        align: "center", verticalAlign: "middle",
      },
    });
    graphic.push({
      type: "text", x: 440, y: 870, z: 100,
      style: { text: "Flight direction (°)", fontSize: 23, fontFamily: FONT, fill: "#111", align: "center", verticalAlign: "middle" },
    });

    chart.setOption({
      animation: false,
      backgroundColor: "#ffffff",
      grid, xAxis, yAxis, series, graphic,
    });

    return () => chart.dispose();
  }, []);

  return <div ref={ref} style={{ width: 807, height: 884 }} />;
}
